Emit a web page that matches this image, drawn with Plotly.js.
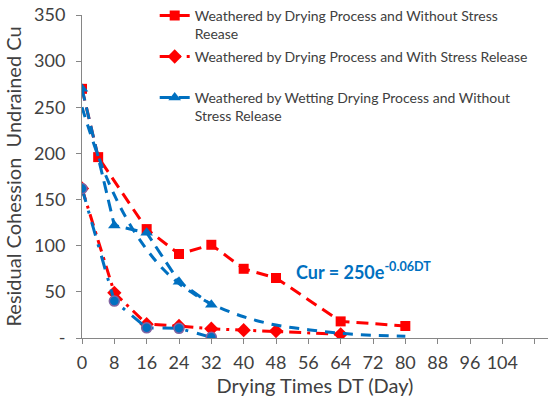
<!DOCTYPE html>
<html>
<head>
<meta charset="utf-8">
<script src="https://cdn.plot.ly/plotly-3.0.1.min.js"></script>
<style>html,body{margin:0;padding:0;background:#fff;}#chart{width:548px;height:402px;}</style>
</head>
<body>
<div id="chart"></div>
<script>
// Data
const sqDT   = [0, 4, 16, 24, 32, 40, 48, 64, 80];
const sqCu   = [270, 196, 118, 91, 101, 75, 65, 18, 13];

const diaDT  = [0, 8, 16, 24, 32, 40, 48, 64];
const diaCu  = [162, 49, 15, 13, 10, 8.5, 7.5, 4];

const triDT  = [0, 8, 16, 24, 32];
const triCu  = [270, 122, 114, 61, 36];

const cirDT  = [0, 8, 16, 24, 32];
const cirCu  = [162, 40, 11, 10.5, 0.7];

const fitDT  = [0, 4, 8, 12, 16, 20, 24, 28, 32, 40, 48, 56, 64, 72, 80];
const fitCu  = [250, 197, 155, 122, 96, 75, 59, 47, 37, 23, 14, 9, 5, 3, 2];

const xTickVals = [0, 8, 16, 24, 32, 40, 48, 56, 64, 72, 80, 88, 96, 104, 112];
const xTickText = ['0','8','16','24','32','40','48','56','64','72','80','88','96','104',''];
const yTickVals = [0, 50, 100, 150, 200, 250, 300, 350];
const yTickText = ['-','50','100','150','200','250','300','350'];

const names = [
  'Weathered by Drying Process and Without Stress<br>Reease',
  'Weathered by Drying Process and With Stress Release<br> ',
  'Weathered by Wetting Drying Process and Without<br>Stress Release'
];
const fitLabel = 'Cur = 250e<sup>-0.06DT</sup>';

const RED = '#FF0000', BLUE = '#0070C0', PURPLE = '#8064A2', TXT = '#404040', AX = '#868686';
const FONT = 'Lato, "Open Sans", sans-serif';

const traces = [
  {x: sqDT, y: sqCu, name: names[0], legendgroup: 'a', mode: 'lines+markers',
   line: {color: RED, width: 3, dash: '12px,7px'},
   marker: {symbol: 'square', size: 10, color: RED}},
  {x: diaDT, y: diaCu, name: names[1], legendgroup: 'b', mode: 'lines+markers',
   line: {color: RED, width: 3, dash: '12px,6px,3px,6px'},
   marker: {symbol: 'diamond', size: 11, color: RED}},
  {x: triDT, y: triCu, name: names[2], legendgroup: 'c', mode: 'lines+markers',
   line: {color: BLUE, width: 3, dash: '12px,7px'},
   marker: {symbol: 'triangle-up', size: 11, color: BLUE}},
  {x: cirDT, y: cirCu, name: 'circles', showlegend: false, mode: 'lines+markers',
   line: {color: BLUE, width: 3, dash: '14px,9px,3px,9px'},
   marker: {symbol: 'circle', size: 10, color: BLUE, line: {color: PURPLE, width: 1.5}}},
  {x: fitDT, y: fitCu, name: 'fit', showlegend: false, mode: 'lines',
   line: {color: BLUE, width: 3, dash: '10px,8px', shape: 'spline'}}
];

const layout = {
  width: 548, height: 402,
  margin: {l: 82, r: 0, t: 12, b: 64, pad: 0},
  paper_bgcolor: '#fff', plot_bgcolor: '#fff',
  font: {family: FONT, color: TXT, size: 16},
  showlegend: true,
  legend: {
    x: 0.156, y: 1.047, xanchor: 'left', yanchor: 'top',
    font: {family: FONT, size: 14, color: TXT},
    valign: 'top', bgcolor: 'rgba(0,0,0,0)', traceorder: 'grouped', tracegroupgap: 1.5
  },
  xaxis: {
    range: [0, 115.3], tickmode: 'array', tickvals: xTickVals, ticktext: xTickText,
    showgrid: false, zeroline: false, showline: true, linecolor: AX, linewidth: 1,
    ticks: 'outside', ticklen: 5, tickcolor: AX, tickfont: {size: 18, color: TXT},
    ticklabelstandoff: 3,
    title: {text: 'Drying Times DT (Day)', font: {size: 20, color: TXT}, standoff: 4}
  },
  yaxis: {
    range: [0, 350], tickmode: 'array', tickvals: yTickVals, ticktext: yTickText,
    showgrid: false, zeroline: false, showline: true, linecolor: AX, linewidth: 1,
    ticks: 'outside', ticklen: 5, tickcolor: AX, tickfont: {size: 18, color: TXT},
    ticklabelstandoff: 7,
    title: {text: 'Residual Cohession  Undrained Cu', font: {size: 20, color: TXT}, standoff: 7}
  },
  annotations: [{
    x: 52.5, y: 73, xref: 'x', yref: 'y', xanchor: 'left', yanchor: 'middle',
    text: fitLabel, showarrow: false,
    font: {family: FONT, size: 18, color: BLUE, weight: 'bold'}
  }]
};

Plotly.newPlot('chart', traces, layout, {displayModeBar: false, staticPlot: true});
</script>
</body>
</html>
